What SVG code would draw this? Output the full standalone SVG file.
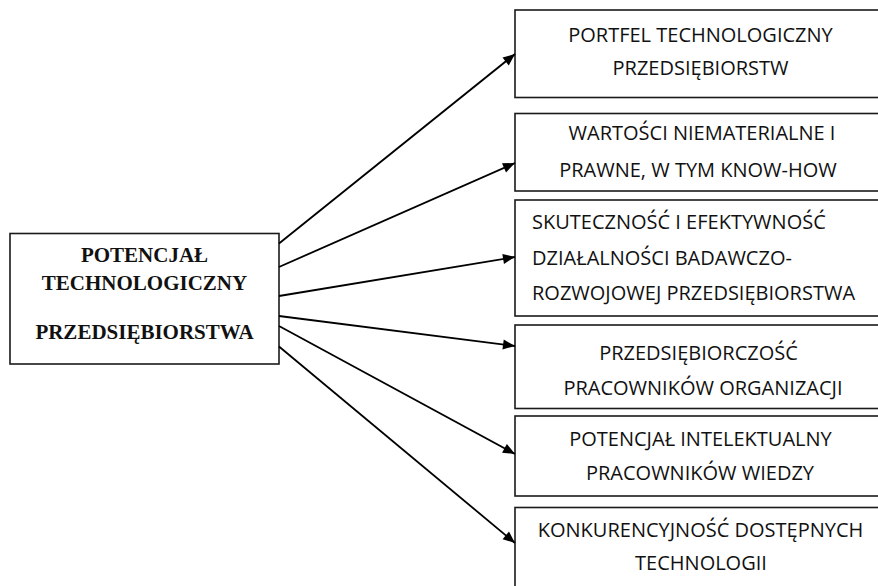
<svg xmlns="http://www.w3.org/2000/svg" width="878" height="586" viewBox="0 0 878 586">
  <defs>
    <marker id="arrow" viewBox="0 0 12 10" refX="12" refY="5" markerWidth="13" markerHeight="10" markerUnits="userSpaceOnUse" orient="auto" overflow="visible">
      <path d="M0,0 L12,5 L0,10 Z" fill="#000"/>
    </marker>
    <style>
      .box { fill: #fff; stroke: #1a1a1a; stroke-width: 1.6; }
      .main { font-family: "Liberation Serif", "Times New Roman", serif; font-weight: bold; font-size: 21px; fill: #111; text-anchor: middle; }
      .lbl { font-family: "Open Sans", "Noto Sans", sans-serif; font-size: 20px; fill: #111; }
      .c { text-anchor: middle; }
      .conn line { stroke: #000; stroke-width: 1.8; marker-end: url(#arrow); }
    </style>
  </defs>
  <rect width="878" height="586" fill="#fff"/>

  <!-- central node -->
  <g id="potencjal">
    <rect class="box" x="10" y="233.5" width="269" height="130.5"/>
    <text class="main" x="144.5" y="261.5">POTENCJAŁ</text>
    <text class="main" x="144.5" y="290">TECHNOLOGICZNY</text>
    <text class="main" x="144.5" y="339">PRZEDSIĘBIORSTWA</text>
  </g>

  <!-- component nodes -->
  <g id="portfel">
    <rect class="box" x="515" y="10" width="380" height="87.5"/>
    <text class="lbl c" x="700.5" y="41.5">PORTFEL TECHNOLOGICZNY</text>
    <text class="lbl c" x="700.5" y="75">PRZEDSIĘBIORSTW</text>
  </g>
  <g id="wartosci">
    <rect class="box" x="515" y="113.5" width="380" height="77.5"/>
    <text class="lbl c" x="702" y="140">WARTOŚCI NIEMATERIALNE I</text>
    <text class="lbl c" x="698" y="176.5">PRAWNE, W TYM KNOW-HOW</text>
  </g>
  <g id="skutecznosc">
    <rect class="box" x="515" y="200" width="380" height="116"/>
    <text class="lbl" x="532" y="229">SKUTECZNOŚĆ I EFEKTYWNOŚĆ</text>
    <text class="lbl" x="532" y="265">DZIAŁALNOŚCI BADAWCZO-</text>
    <text class="lbl" x="532" y="300">ROZWOJOWEJ PRZEDSIĘBIORSTWA</text>
  </g>
  <g id="przedsiebiorczosc">
    <rect class="box" x="515" y="325" width="380" height="83.5"/>
    <text class="lbl c" x="698.5" y="360">PRZEDSIĘBIORCZOŚĆ</text>
    <text class="lbl c" x="703" y="395">PRACOWNIKÓW ORGANIZACJI</text>
  </g>
  <g id="intelekt">
    <rect class="box" x="515" y="416" width="380" height="80"/>
    <text class="lbl c" x="700.5" y="445.5">POTENCJAŁ INTELEKTUALNY</text>
    <text class="lbl c" x="700" y="480">PRACOWNIKÓW WIEDZY</text>
  </g>
  <g id="konkurencyjnosc">
    <rect class="box" x="515" y="507.5" width="380" height="100"/>
    <text class="lbl c" x="700.5" y="536.5">KONKURENCYJNOŚĆ DOSTĘPNYCH</text>
    <text class="lbl c" x="701" y="570">TECHNOLOGII</text>
  </g>

  <!-- connectors -->
  <g id="connectors" class="conn">
    <line x1="279" y1="243.5" x2="515" y2="54"/>
    <line x1="279" y1="267" x2="515" y2="163"/>
    <line x1="279" y1="296" x2="515" y2="257"/>
    <line x1="279" y1="316" x2="515" y2="346"/>
    <line x1="279" y1="326" x2="515" y2="454"/>
    <line x1="279" y1="346.5" x2="515" y2="543"/>
  </g>
</svg>
